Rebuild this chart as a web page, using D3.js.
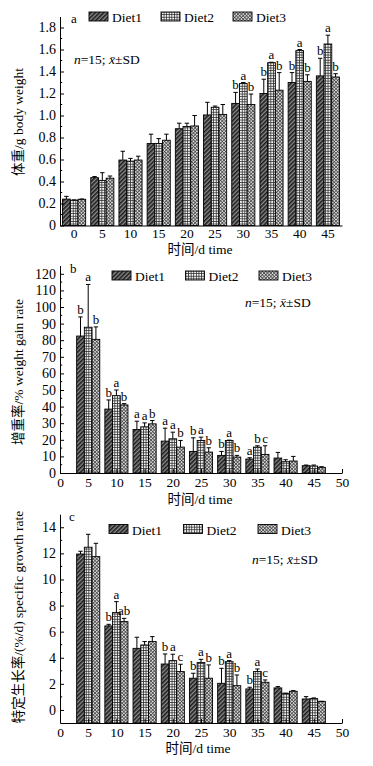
<!DOCTYPE html>
<html><head><meta charset="utf-8">
<script src="https://cdn.jsdelivr.net/npm/d3@7"></script>
<style>body{margin:0;background:#fff} svg{display:block}</style>
</head><body>
<script>
// ---------------- DATA ----------------
const diets = ["Diet1", "Diet2", "Diet3"];

// Panel a: body weight (g)
const daysA = ["0","5","10","15","20","25","30","35","40","45"];
const weightD1 = [0.24, 0.435, 0.595, 0.745, 0.88, 1.005, 1.11, 1.20, 1.30, 1.36];
const weightD2 = [0.23, 0.41, 0.585, 0.745, 0.90, 1.075, 1.29, 1.48, 1.59, 1.65];
const weightD3 = [0.238, 0.43, 0.595, 0.775, 0.905, 1.01, 1.10, 1.23, 1.31, 1.35];
const weightSD1 = [0.025, 0.01, 0.08, 0.085, 0.05, 0.115, 0.10, 0.13, 0.09, 0.16];
const weightSD2 = [0.003, 0.07, 0.025, 0.045, 0.03, 0.011, 0.01, 0.004, 0.01, 0.08];
const weightSD3 = [0.003, 0.02, 0.035, 0.055, 0.095, 0.09, 0.095, 0.16, 0.06, 0.03];
const weightLab1 = ["","","","","","","b","b","b","b"];
const weightLab2 = ["","","","","","","a","a","a","a"];
const weightLab3 = ["","","","","","","b","b","b","b"];
const weightTicks = [0,0.2,0.4,0.6,0.8,1.0,1.2,1.4,1.6,1.8];

// Panel b: weight gain rate (%)
const daysB = [5,10,15,20,25,30,35,40,45];
const gainD1 = [82.5, 38.5, 26.2, 19.2, 13.0, 10.6, 8.4, 9.0, 4.4];
const gainD2 = [87.8, 46.6, 27.8, 20.6, 19.6, 19.6, 15.6, 6.8, 4.2];
const gainD3 = [80.5, 41.0, 29.6, 15.6, 12.6, 9.6, 11.2, 7.2, 3.4];
const gainSD1 = [11.5, 5.5, 5.0, 7.8, 8.2, 2.4, 0.8, 3.4, 0.4];
const gainSD2 = [25.8, 3.4, 2.4, 4.0, 2.0, 0.2, 0.8, 1.2, 0.6];
const gainSD3 = [7.5, 0.8, 2.0, 4.0, 2.6, 1.0, 5.2, 2.8, 0.4];
const gainLab1 = ["b","b","a","a","b","b","a","",""];
const gainLab2 = ["a","a","a","a","a","a","b","",""];
const gainLab3 = ["b","b","b","b","b","b","c","",""];
const gainTicks = [0,10,20,30,40,50,60,70,80,90,100,110,120];

// Panel c: specific growth rate (%/d)
const daysC = [5,10,15,20,25,30,35,40,45];
const sgrD1 = [11.95, 6.44, 4.72, 3.52, 2.43, 2.04, 1.61, 1.69, 0.84];
const sgrD2 = [12.47, 7.46, 4.98, 3.78, 3.63, 3.70, 2.94, 1.28, 0.87];
const sgrD3 = [11.75, 6.77, 5.24, 2.94, 2.43, 1.86, 2.12, 1.43, 0.66];
const sgrSD1 = [0.21, 0.12, 0.85, 0.77, 0.38, 1.15, 0.13, 0.10, 0.18];
const sgrSD2 = [0.99, 0.84, 0.26, 0.49, 0.25, 0.08, 0.20, 0.0, 0.05];
const sgrSD3 = [1.02, 0.25, 0.38, 0.56, 1.02, 0.82, 0.18, 0.05, 0.0];
const sgrLab1 = ["","b","","b","b","b","b","",""];
const sgrLab2 = ["","a","","a","a","a","a","",""];
const sgrLab3 = ["","ab","","c","b","b","c","",""];
const sgrTicks = [0,2,4,6,8,10,12,14];

const timeTicks = [0,5,10,15,20,25,30,35,40,45,50];

// ---------------- DRAW ----------------
const FONT = "'Liberation Serif','Times New Roman','Noto Sans CJK SC',serif";
const W = 373, H = 766;
const X0 = 60, X1 = 342;

const svg = d3.select("body").append("svg").attr("width", W).attr("height", H)
  .style("font-family", FONT);
const defs = svg.append("defs");

// Diet1: dark diagonal hatch
const p1 = defs.append("pattern").attr("id","pat1").attr("patternUnits","userSpaceOnUse")
  .attr("width",3).attr("height",3).attr("patternTransform","rotate(45)");
p1.append("rect").attr("width",3).attr("height",3).attr("fill","#8a8a8a");
p1.append("line").attr("x1",0.8).attr("y1",0).attr("x2",0.8).attr("y2",3).attr("stroke","#1c1c1c").attr("stroke-width",1.6);
// Diet2: square grid
const p2 = defs.append("pattern").attr("id","pat2").attr("patternUnits","userSpaceOnUse")
  .attr("width",2.6).attr("height",2.6);
p2.append("rect").attr("width",2.6).attr("height",2.6).attr("fill","#f2f2f2");
p2.append("path").attr("d","M0,0.4H2.6M0.4,0V2.6").attr("stroke","#2a2a2a").attr("stroke-width",0.8);
// Diet3: diagonal crosshatch
const p3 = defs.append("pattern").attr("id","pat3").attr("patternUnits","userSpaceOnUse")
  .attr("width",2.4).attr("height",2.4).attr("patternTransform","rotate(45)");
p3.append("rect").attr("width",2.4).attr("height",2.4).attr("fill","#d8d8d8");
p3.append("path").attr("d","M0,0.4H2.4M0.4,0V2.4").attr("stroke","#404040").attr("stroke-width",0.7);
const fills = ["url(#pat1)","url(#pat2)","url(#pat3)"];

function panel(o) {
  const g = svg.append("g");
  const y = o.y;
  const yBase = y(o.base);

  // group positioning
  let gx, gw;
  if (o.band) {
    gx = c => o.x(c);
    gw = o.x.bandwidth();
  } else {
    gw = (o.x(5) - o.x(0)) * 0.82;
    gx = c => o.x(c) - gw / 2;
  }
  const x1 = d3.scaleBand().domain(diets).range([0, gw]).padding(0);

  const rows = o.cats.flatMap((c, i) => diets.map((d, k) => ({
    c, i, k, d, v: o.vals[k][i], sd: o.sds[k][i], lab: o.labs[k][i]
  })));

  // bars
  g.append("g").selectAll("rect").data(rows).join("rect")
    .attr("x", r => gx(r.c) + x1(r.d))
    .attr("y", r => y(r.v))
    .attr("width", x1.bandwidth())
    .attr("height", r => yBase - y(r.v))
    .attr("fill", r => fills[r.k])
    .attr("stroke", "#000").attr("stroke-width", 0.9);

  // error bars
  const eb = g.append("g").attr("stroke", "#000").attr("stroke-width", 1);
  eb.selectAll("line.v").data(rows).join("line").attr("class","v")
    .attr("x1", r => gx(r.c) + x1(r.d) + x1.bandwidth()/2)
    .attr("x2", r => gx(r.c) + x1(r.d) + x1.bandwidth()/2)
    .attr("y1", r => y(r.v)).attr("y2", r => y(r.v + r.sd));
  eb.selectAll("line.c").data(rows).join("line").attr("class","c")
    .attr("x1", r => gx(r.c) + x1(r.d) + x1.bandwidth()/2 - 2.2)
    .attr("x2", r => gx(r.c) + x1(r.d) + x1.bandwidth()/2 + 2.2)
    .attr("y1", r => y(r.v + r.sd)).attr("y2", r => y(r.v + r.sd));

  // significance letters
  g.append("g").selectAll("text").data(rows.filter(r => r.lab)).join("text")
    .attr("x", r => gx(r.c) + x1(r.d) + x1.bandwidth()/2)
    .attr("y", r => y(r.v + r.sd) - 3)
    .attr("text-anchor", "middle").attr("font-size", 13).attr("fill", "#000")
    .text(r => r.lab);

  // y axis
  const ya = g.append("g").attr("transform", `translate(${X0},0)`)
    .call(d3.axisLeft(y).tickValues(o.yTicks).tickFormat(o.yFmt)
      .tickSizeInner(-4).tickSizeOuter(0).tickPadding(4));
  ya.selectAll("text").attr("font-size", 14).attr("font-family", FONT).attr("fill","#000");
  ya.attr("font-family", null);
  g.append("g").selectAll("line").data(o.yMinor).join("line")
    .attr("x1", X0).attr("x2", X0 + 2.2)
    .attr("y1", d => y(d)).attr("y2", d => y(d)).attr("stroke", "#000");

  // x axis
  let xAxis;
  if (o.band) {
    xAxis = d3.axisBottom(o.x).tickSize(0).tickPadding(3);
  } else {
    xAxis = d3.axisBottom(o.x).tickValues(timeTicks).tickFormat(d3.format("d"))
      .tickSizeInner(-4).tickSizeOuter(0).tickPadding(4);
  }
  const xa = g.append("g").attr("transform", `translate(0,${yBase})`).call(xAxis);
  xa.selectAll("text").attr("font-size", 13.5).attr("font-family", FONT).attr("fill","#000");
  xa.attr("font-family", null);

  // axis titles
  g.append("text").attr("transform", `translate(${o.yTitleX},${o.yTitleY}) rotate(-90)`)
    .attr("text-anchor", "middle").attr("font-size", 13.5).text(o.yTitle);
  g.append("text").attr("x", o.xTitleX).attr("y", o.xTitleY)
    .attr("text-anchor", "middle").attr("font-size", 13.5).text("时间/d time");

  // panel letter
  g.append("text").attr("x", o.tagX).attr("y", o.tagY).attr("font-size", 13).text(o.tag);

  // legend
  const lg = g.append("g").selectAll("g").data(diets).join("g")
    .attr("transform", (d, i) => `translate(${o.legX + i * o.legStep},${o.legY})`);
  lg.append("rect").attr("x", 0).attr("y", -10).attr("width", 19).attr("height", 9)
    .attr("fill", (d, i) => fills[i]).attr("stroke", "#000").attr("stroke-width", 0.9);
  lg.append("text").attr("x", 23).attr("y", 0).attr("font-size", 13.5).text(d => d);

  // n=15 note
  const nt = g.append("text").attr("x", o.nX).attr("y", o.nY).attr("font-size", 13.5);
  nt.append("tspan").attr("font-style", "italic").text("n");
  nt.append("tspan").text("=15; ");
  nt.append("tspan").attr("font-style", "italic").text("x\u0304");
  nt.append("tspan").text("±SD");
}

// Panel a
panel({
  band: true,
  x: d3.scaleBand().domain(daysA).range([X0, X1]).paddingInner(0.18).paddingOuter(0.09),
  y: d3.scaleLinear().domain([0, 1.9]).range([225.5, 16.5]),
  base: 0,
  cats: daysA,
  vals: [weightD1, weightD2, weightD3],
  sds: [weightSD1, weightSD2, weightSD3],
  labs: [weightLab1, weightLab2, weightLab3],
  yTicks: weightTicks,
  yFmt: d => d === 0 ? "0" : d3.format(".1f")(d),
  yMinor: d3.range(0.1, 1.9, 0.2),
  yTitle: "体重/g body weight", yTitleX: 23, yTitleY: 122,
  xTitleX: 200, xTitleY: 254,
  tag: "a", tagX: 71, tagY: 22.5,
  legX: 89, legY: 22, legStep: 72,
  nX: 74, nY: 64
});

// Panel b
panel({
  band: false,
  x: d3.scaleLinear().domain([0, 50]).range([X0, X1]),
  y: d3.scaleLinear().domain([0, 125]).range([473, 265.5]),
  base: 0,
  cats: daysB,
  vals: [gainD1, gainD2, gainD3],
  sds: [gainSD1, gainSD2, gainSD3],
  labs: [gainLab1, gainLab2, gainLab3],
  yTicks: gainTicks,
  yFmt: d3.format("d"),
  yMinor: d3.range(5, 125, 10),
  yTitle: "增重率/% weight gain rate", yTitleX: 23, yTitleY: 372,
  xTitleX: 200, xTitleY: 503.5,
  tag: "b", tagX: 70, tagY: 273,
  legX: 112, legY: 281, legStep: 73.5,
  nX: 245, nY: 306.5
});

// Panel c
panel({
  band: false,
  x: d3.scaleLinear().domain([0, 50]).range([X0, X1]),
  y: d3.scaleLinear().domain([-1, 15]).range([723, 514.2]),
  base: -1,
  cats: daysC,
  vals: [sgrD1, sgrD2, sgrD3],
  sds: [sgrSD1, sgrSD2, sgrSD3],
  labs: [sgrLab1, sgrLab2, sgrLab3],
  yTicks: sgrTicks,
  yFmt: d3.format("d"),
  yMinor: d3.range(1, 15, 2),
  yTitle: "特定生长率/(%/d) specific growth rate", yTitleX: 23, yTitleY: 617,
  xTitleX: 198, xTitleY: 753,
  tag: "c", tagX: 69, tagY: 520.5,
  legX: 109, legY: 534.5, legStep: 74.5,
  nX: 252, nY: 564
});
</script>
</body></html>
